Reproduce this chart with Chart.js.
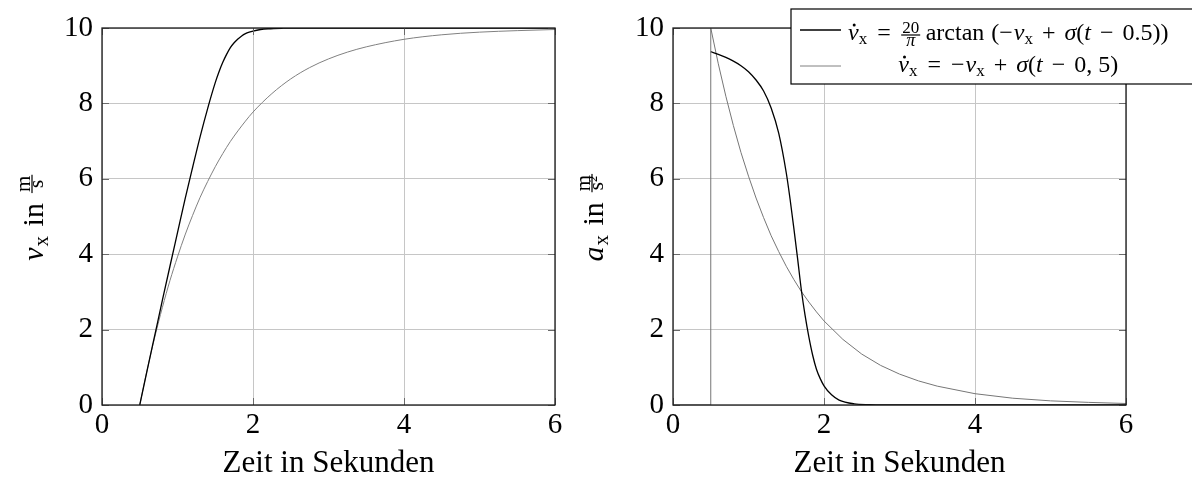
<!DOCTYPE html>
<html>
<head>
<meta charset="utf-8">
<script src="https://cdn.jsdelivr.net/npm/chart.js@4.4.0/dist/chart.umd.min.js"></script>
<style>
body { margin: 0; background: #fff; width: 1192px; height: 479px; overflow: hidden; position: relative; }
canvas { position: absolute; top: 0; }
#links { left: 0; }
#rechts { left: 580px; }
</style>
</head>
<body>
<canvas id="links" width="580" height="479"></canvas>
<canvas id="rechts" width="612" height="479"></canvas>
<script>
// Werte
var zeitArctan = [0.5, 0.6, 0.7, 0.8, 0.9, 1.0, 1.1, 1.2, 1.3, 1.4, 1.5, 1.55, 1.6, 1.65, 1.7, 1.75, 1.8, 1.85, 1.9, 1.95, 2.0, 2.1, 2.2, 2.4, 2.6, 3, 4, 5, 6];
var vArctan = [0, 0.94, 1.86, 2.78, 3.68, 4.57, 5.46, 6.30, 7.12, 7.87, 8.55, 8.84, 9.09, 9.30, 9.48, 9.61, 9.71, 9.79, 9.85, 9.89, 9.92, 9.96, 9.98, 9.995, 10, 10, 10, 10, 10];
var aArctan = [9.37, 9.30, 9.22, 9.12, 9.00, 8.84, 8.62, 8.33, 7.88, 7.21, 6.16, 5.47, 4.70, 3.89, 3.05, 2.37, 1.80, 1.32, 0.95, 0.70, 0.51, 0.27, 0.13, 0.03, 0.01, 0, 0, 0, 0];

var zeitLinear = [0.5, 0.6, 0.7, 0.8, 0.9, 1.0, 1.1, 1.2, 1.3, 1.4, 1.5, 1.6, 1.7, 1.8, 1.9, 2.0, 2.25, 2.5, 2.75, 3, 3.25, 3.5, 4, 4.5, 5, 5.5, 6];
var vLinear = [0, 0.95, 1.81, 2.59, 3.30, 3.93, 4.51, 5.03, 5.51, 5.93, 6.32, 6.67, 6.99, 7.27, 7.53, 7.77, 8.26, 8.65, 8.95, 9.18, 9.36, 9.50, 9.70, 9.82, 9.89, 9.93, 9.96];
var zeitLinearA = [0, 0.5, 0.5, 0.6, 0.7, 0.8, 0.9, 1.0, 1.1, 1.2, 1.3, 1.4, 1.5, 1.6, 1.7, 1.8, 1.9, 2.0, 2.25, 2.5, 2.75, 3, 3.25, 3.5, 4, 4.5, 5, 5.5, 6];
var aLinear = [0, 0, 10, 9.05, 8.19, 7.41, 6.70, 6.07, 5.49, 4.97, 4.49, 4.07, 3.68, 3.33, 3.01, 2.73, 2.47, 2.23, 1.74, 1.35, 1.05, 0.82, 0.64, 0.50, 0.30, 0.18, 0.11, 0.07, 0.04];

var xTicks = [0, 2, 4, 6];
var yTicks = [0, 2, 4, 6, 8, 10];

var SERIF = '"Liberation Serif", "Times New Roman", serif';

function punkte(t, w) {
    return t.map(function (x, i) {
        return { x: x, y: w[i] };
    });
}

// Text mit Indizes und Bruechen Stueck fuer Stueck zeichnen
function laufText(ctx, runs, x, y, nurMessen) {
    var cx = x;
    runs.forEach(function (r) {
        var w;
        cx += (r.pre || 0);
        if (r.num !== undefined) {
            ctx.font = r.font;
            var wn = ctx.measureText(r.num).width;
            ctx.font = r.denFont || r.font;
            var wd = ctx.measureText(r.den).width;
            w = Math.max(wn, wd) + 3;
            if (!nurMessen) {
                ctx.textAlign = 'center';
                ctx.font = r.font;
                ctx.fillText(r.num, cx + w / 2, y - r.axis - 2.5);
                ctx.font = r.denFont || r.font;
                ctx.fillText(r.den, cx + w / 2, y - r.axis + r.denDrop);
                ctx.fillRect(cx + 0.5, y - r.axis - 0.6, w - 1, 1.2);
                ctx.textAlign = 'left';
            }
            cx += w + (r.sp || 0);
        } else {
            ctx.font = r.font;
            w = ctx.measureText(r.t).width;
            if (!nurMessen) {
                ctx.fillText(r.t, cx, y + (r.dy || 0));
                if (r.dot) {
                    ctx.beginPath();
                    ctx.arc(cx + w * 0.58, y - r.dot, 1.5, 0, 2 * Math.PI);
                    ctx.fill();
                }
            }
            cx += w + (r.sp || 0);
        }
    });
    return cx - x;
}

function fnt(px, it) {
    return (it ? 'italic ' : '') + px + 'px ' + SERIF;
}

function yTitelRuns(buchstabe, nenner) {
    return [
        { t: buchstabe, font: fnt(30, true), sp: 1 },
        { t: 'x', font: fnt(21), dy: 5 },
        { t: ' in ', font: fnt(30), pre: 2, sp: 2 },
        { num: 'm', den: nenner, font: fnt(21), axis: 11, denDrop: 11 }
    ];
}

var legendeZeile1 = [
    { t: 'v', font: fnt(24, true), dot: 15 },
    { t: 'x', font: fnt(17), dy: 4 },
    { t: '=', font: fnt(24), pre: 10, sp: 10 },
    { num: '20', den: 'π', font: fnt(17), denFont: fnt(18, true), axis: 5, denDrop: 11, sp: 5 },
    { t: 'arctan', font: fnt(24), sp: 7 },
    { t: '(−', font: fnt(24), sp: 1 },
    { t: 'v', font: fnt(24, true) },
    { t: 'x', font: fnt(17), dy: 4 },
    { t: '+', font: fnt(24), pre: 9, sp: 9 },
    { t: 'σ', font: fnt(24, true) },
    { t: '(', font: fnt(24) },
    { t: 't', font: fnt(24, true) },
    { t: '−', font: fnt(24), pre: 9, sp: 9 },
    { t: '0.5))', font: fnt(24) }
];

var legendeZeile2 = [
    { t: 'v', font: fnt(24, true), dot: 15 },
    { t: 'x', font: fnt(17), dy: 4 },
    { t: '=', font: fnt(24), pre: 10, sp: 10 },
    { t: '−', font: fnt(24), sp: 1 },
    { t: 'v', font: fnt(24, true) },
    { t: 'x', font: fnt(17), dy: 4 },
    { t: '+', font: fnt(24), pre: 9, sp: 9 },
    { t: 'σ', font: fnt(24, true) },
    { t: '(', font: fnt(24) },
    { t: 't', font: fnt(24, true) },
    { t: '−', font: fnt(24), pre: 9, sp: 9 },
    { t: '0, 5)', font: fnt(24) }
];

function linie(c, x1, y1, x2, y2) {
    c.beginPath();
    c.moveTo(x1, y1);
    c.lineTo(x2, y2);
    c.stroke();
}

function rahmenPlugin(titel, titelX, mitLegende) {
    return {
        id: 'rahmen',
        afterDraw: function (chart) {
            var c = chart.ctx, a = chart.chartArea;
            var sx = chart.scales.x, sy = chart.scales.y;
            c.save();
            // kleine Striche innen
            c.strokeStyle = '#6a6a6a';
            c.lineWidth = 1;
            xTicks.forEach(function (v) {
                var p = Math.round(sx.getPixelForValue(v)) + 0.5;
                linie(c, p, a.bottom, p, a.bottom - 7);
                linie(c, p, a.top, p, a.top + 7);
            });
            yTicks.forEach(function (v) {
                var p = Math.round(sy.getPixelForValue(v)) + 0.5;
                linie(c, a.left, p, a.left + 7, p);
                linie(c, a.right, p, a.right - 7, p);
            });
            c.strokeStyle = '#1a1a1a';
            c.lineWidth = 1.3;
            c.strokeRect(a.left, a.top, a.right - a.left, a.bottom - a.top);

            // y-Titel gedreht
            c.fillStyle = '#000';
            c.textBaseline = 'alphabetic';
            c.textAlign = 'left';
            var w = laufText(c, titel, 0, 0, true);
            c.translate(titelX, (a.top + a.bottom) / 2 + 1);
            c.rotate(-Math.PI / 2);
            laufText(c, titel, -w / 2, 0, false);
            c.restore();

            if (mitLegende) {
                c.save();
                var lx = 211, ly = 9, lw = 420, lh = 75;
                c.fillStyle = '#fff';
                c.fillRect(lx, ly, lw, lh);
                c.strokeStyle = '#000';
                c.lineWidth = 1.2;
                c.strokeRect(lx, ly, lw, lh);
                c.strokeStyle = '#000';
                c.lineWidth = 1.3;
                linie(c, lx + 9, 30, lx + 50, 30);
                c.strokeStyle = '#808080';
                c.lineWidth = 1;
                linie(c, lx + 9, 66, lx + 50, 66);
                c.fillStyle = '#000';
                c.textBaseline = 'alphabetic';
                var w1 = laufText(c, legendeZeile1, 0, 0, true);
                var w2 = laufText(c, legendeZeile2, 0, 0, true);
                var mitte = lx + 57 + w1 / 2;
                laufText(c, legendeZeile1, lx + 57, 40, false);
                laufText(c, legendeZeile2, mitte - w2 / 2, 72, false);
                c.restore();
            }
        }
    };
}

function optionen(yBreite, rechts) {
    return {
        responsive: false,
        animation: false,
        devicePixelRatio: 1,
        layout: { padding: { top: 28, right: rechts, bottom: 0, left: 0 } },
        plugins: { legend: { display: false }, tooltip: { enabled: false } },
        elements: { point: { radius: 0 }, line: { tension: 0 } },
        scales: {
            x: {
                type: 'linear',
                min: 0,
                max: 6,
                afterFit: function (s) { s.height = 74; },
                afterBuildTicks: function (s) {
                    s.ticks = xTicks.map(function (v) { return { value: v }; });
                },
                grid: { color: '#c6c6c6', lineWidth: 1, drawTicks: false },
                border: { display: false },
                ticks: {
                    autoSkip: false,
                    maxRotation: 0,
                    padding: 3,
                    color: '#000',
                    font: { family: SERIF, size: 29 }
                },
                title: {
                    display: true,
                    text: 'Zeit in Sekunden',
                    color: '#000',
                    font: { family: SERIF, size: 31, lineHeight: 1 },
                    padding: { top: 0, bottom: 0 }
                }
            },
            y: {
                type: 'linear',
                min: 0,
                max: 10,
                afterFit: function (s) { s.width = yBreite; },
                afterBuildTicks: function (s) {
                    s.ticks = yTicks.map(function (v) { return { value: v }; });
                },
                grid: { color: '#c6c6c6', lineWidth: 1, drawTicks: false },
                border: { display: false },
                ticks: {
                    padding: 9,
                    color: '#000',
                    font: { family: SERIF, size: 29 }
                }
            }
        }
    };
}

new Chart(document.getElementById('links'), {
    type: 'line',
    data: {
        datasets: [
            {
                label: 'arctan',
                data: punkte(zeitArctan, vArctan),
                borderColor: '#000',
                borderWidth: 1.3,
                cubicInterpolationMode: 'monotone'
            },
            {
                label: 'linear',
                data: punkte(zeitLinear, vLinear),
                borderColor: '#808080',
                borderWidth: 1,
                cubicInterpolationMode: 'monotone'
            }
        ]
    },
    options: optionen(102, 25),
    plugins: [rahmenPlugin(yTitelRuns('v', 's'), 43, false)]
});

new Chart(document.getElementById('rechts'), {
    type: 'line',
    data: {
        datasets: [
            {
                label: 'arctan',
                data: punkte(zeitArctan, aArctan),
                borderColor: '#000',
                borderWidth: 1.3,
                cubicInterpolationMode: 'monotone'
            },
            {
                label: 'linear',
                data: punkte(zeitLinearA, aLinear),
                borderColor: '#767676',
                borderWidth: 1
            }
        ]
    },
    options: optionen(93, 66),
    plugins: [rahmenPlugin(yTitelRuns('a', 's²'), 23, true)]
});
</script>
</body>
</html>
